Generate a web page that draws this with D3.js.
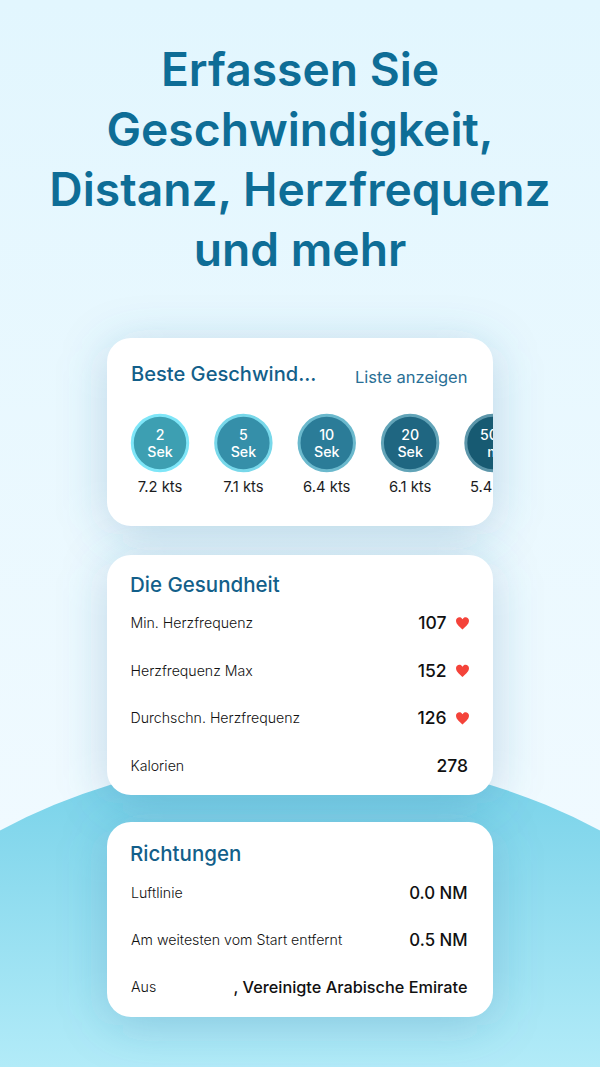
<!DOCTYPE html>
<html><head><meta charset="utf-8">
<script src="https://cdn.jsdelivr.net/npm/d3@7"></script>
<style>html,body{margin:0;padding:0;background:#e6f7fe}svg{display:block}text{font-family:Inter,"Noto Sans",sans-serif}</style>
</head><body><svg id="c" width="600" height="1067"></svg>
<script>
const titleLines=["Erfassen Sie","Geschwindigkeit,","Distanz, Herzfrequenz","und mehr"];
const speedLabels=[["2","Sek"],["5","Sek"],["10","Sek"],["20","Sek"],["500","m"]];
const speedValues=["7.2 kts","7.1 kts","6.4 kts","6.1 kts","5.4 kts"];
const speedFill=["#3d9fb2","#358fa9","#2b7c98","#1f6681","#175a72"];
const speedRing=["#7fe6f8","#78d8ea","#6bb9cd","#62a4b8","#5c96aa"];
const healthLabels=["Min. Herzfrequenz","Herzfrequenz Max","Durchschn. Herzfrequenz","Kalorien"];
const healthValues=["107","152","126","278"];
const healthHeart=[true,true,true,false];
const dirLabels=["Luftlinie","Am weitesten vom Start entfernt","Aus"];
const dirValues=["0.0 NM","0.5 NM",", Vereinigte Arabische Emirate"];

const svg=d3.select("#c"),defs=svg.append("defs");
const bg=defs.append("linearGradient").attr("id","bg").attr("x1",0).attr("x2",0).attr("y1",0).attr("y2",1);
bg.append("stop").attr("offset",0).attr("stop-color","#e2f6fe");
bg.append("stop").attr("offset",1).attr("stop-color","#f0faff");
const hill=defs.append("linearGradient").attr("id","hill").attr("gradientUnits","userSpaceOnUse").attr("x1",0).attr("x2",0).attr("y1",770).attr("y2",1067);
hill.append("stop").attr("offset",0).attr("stop-color","#78d2e9");
hill.append("stop").attr("offset",1).attr("stop-color","#b2ebf8");
const blur=defs.append("filter").attr("id","blur").attr("x","-40%").attr("y","-50%").attr("width","180%").attr("height","200%");
blur.append("feGaussianBlur").attr("stdDeviation",24);
defs.append("clipPath").attr("id","c1").append("rect").attr("x",107).attr("y",338).attr("width",386).attr("height",188);

svg.append("rect").attr("width",600).attr("height",830).attr("fill","url(#bg)");
svg.append("circle").attr("cx",300).attr("cy",1398).attr("r",642).attr("fill","url(#hill)");

svg.selectAll(".t").data(titleLines).join("text").attr("x",300)
  .attr("y",(d,i)=>d3.scaleLinear().domain([0,3]).range([86,266])(i))
  .attr("text-anchor","middle").attr("font-size",46.2).attr("font-weight",600)
  .attr("fill","#0e6d96").text(d=>d);

const cards=[[338,526],[555,795],[822,1017]];
svg.selectAll(".sh").data(cards).join("rect").attr("x",107).attr("width",386)
  .attr("y",d=>d[0]+8).attr("height",d=>d[1]-d[0]).attr("rx",24)
  .attr("fill","#2a6f9e").attr("fill-opacity",.26).attr("filter","url(#blur)");
svg.selectAll(".cd").data(cards).join("rect").attr("x",107).attr("width",386)
  .attr("y",d=>d[0]).attr("height",d=>d[1]-d[0]).attr("rx",24).attr("fill","#fff");

function head(x,y,s,size,w,col,anchor){return svg.append("text").attr("x",x).attr("y",y).attr("font-size",size).attr("font-weight",w).attr("fill",col).attr("text-anchor",anchor||"start").text(s);}
head(131,381,"Beste Geschwind...",20.1,500,"#135f8a");
head(467.5,383,"Liste anzeigen",16.5,400,"#2a6f95","end");
head(130,592,"Die Gesundheit",20.5,500,"#135f8a");
head(130,861,"Richtungen",20.5,500,"#135f8a");

const sx=d3.scaleLinear().domain([0,4]).range([160,493.5]);
const sg=svg.append("g").attr("clip-path","url(#c1)").selectAll("g").data(speedLabels).join("g").attr("transform",(d,i)=>`translate(${sx(i)},443)`);
sg.append("circle").attr("r",27.7).attr("fill",(d,i)=>speedFill[i]).attr("stroke",(d,i)=>speedRing[i]).attr("stroke-width",3);
sg.append("text").attr("y",-3.4).attr("text-anchor","middle").attr("font-size",14.2).attr("font-weight",500).attr("fill","#fff").text(d=>d[0]);
sg.append("text").attr("y",14).attr("text-anchor","middle").attr("font-size",14.2).attr("font-weight",500).attr("fill","#fff").text(d=>d[1]);
sg.append("text").attr("y",49).attr("text-anchor","middle").attr("font-size",14.8).attr("fill","#1c1c1e").text((d,i)=>speedValues[i]);

const hy=d3.scaleLinear().domain([0,3]).range([628,770.5]);
const hg=svg.append("g").selectAll("g").data(healthLabels).join("g").attr("transform",(d,i)=>`translate(0,${hy(i)})`);
hg.append("text").attr("x",130.5).attr("font-size",14.15).attr("font-weight",300).attr("fill","#111").text(d=>d);
hg.append("text").attr("x",(d,i)=>healthHeart[i]?446.5:468).attr("y",1).attr("text-anchor","end").attr("font-size",17.5).attr("font-weight",500).attr("fill","#111").text((d,i)=>healthValues[i]);
hg.filter((d,i)=>healthHeart[i]).append("path")
  .attr("transform","translate(462.5,-5)")
  .attr("d","M0 6.5C-2 4.5-6.5 1.5-6.5-2.2C-6.5-6.2-1.6-7.2 0-3.8C1.6-7.2 6.5-6.2 6.5-2.2C6.5 1.5 2 4.5 0 6.5Z")
  .attr("fill","#f4433a");

const dy=d3.scaleLinear().domain([0,2]).range([898,992]);
const dg=svg.append("g").selectAll("g").data(dirLabels).join("g").attr("transform",(d,i)=>`translate(0,${dy(i)})`);
dg.append("text").attr("x",131).attr("font-size",14.2).attr("font-weight",300).attr("fill","#111").text(d=>d);
dg.append("text").attr("x",467.5).attr("y",1).attr("text-anchor","end").attr("font-size",(d,i)=>i<2?16.8:16.3).attr("font-weight",500).attr("fill","#111").text((d,i)=>dirValues[i]);
</script></body></html>
